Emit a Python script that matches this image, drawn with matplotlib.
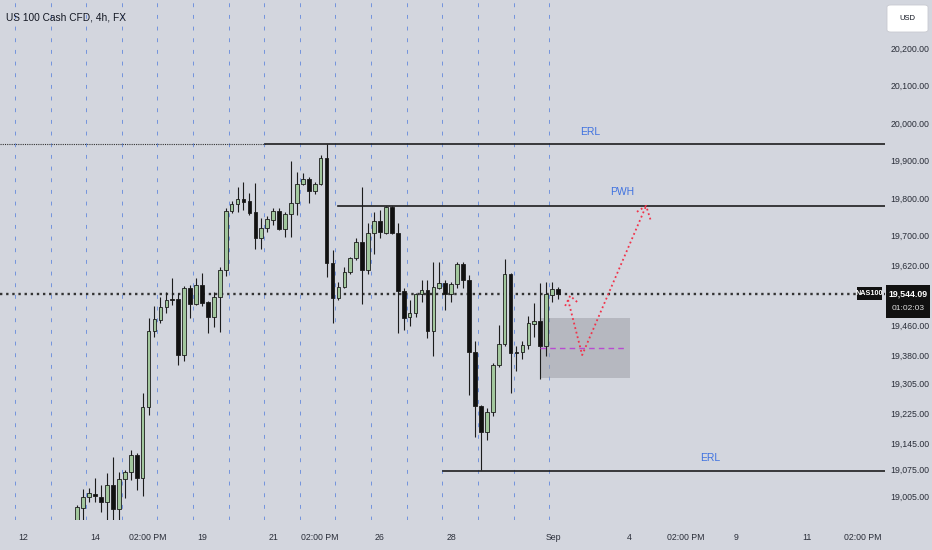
# US 100 Cash CFD 4h chart with ERL / PWH levels and a projected path

import matplotlib.pyplot as plt
from matplotlib.patches import Rectangle, FancyBboxPatch

plt.rcParams['font.family'] = ['Liberation Sans', 'DejaVu Sans']

# 4h candles, bar index 0 = first candle of Aug 12 (6 bars per day)
first_bar = 10
opens = [18835, 18973, 19003, 19011, 19003, 18989, 19035, 18971, 19051, 19069,
         19115, 19053, 19243, 19445, 19475, 19509, 19531, 19531, 19381, 19560,
         19517, 19568, 19523, 19483, 19536, 19608, 19765, 19784, 19797, 19792,
         19763, 19693, 19720, 19741, 19765, 19717, 19757, 19787, 19837, 19851,
         19819, 19837, 19907, 19627, 19533, 19563, 19603, 19640, 19683, 19608,
         19707, 19739, 19707, 19776, 19707, 19552, 19483, 19493, 19544, 19555,
         19445, 19560, 19573, 19544, 19571, 19624, 19581, 19389, 19245, 19176,
         19229, 19355, 19411, 19597, 19389, 19389, 19408, 19464, 19472, 19405,
         19541, 19557]
highs = [18981, 19024, 19027, 19053, 19035, 19067, 19109, 19069, 19075, 19128,
         19120, 19280, 19480, 19512, 19536, 19549, 19587, 19547, 19565, 19568,
         19587, 19600, 19525, 19549, 19616, 19773, 19792, 19829, 19843, 19813,
         19840, 19747, 19752, 19773, 19773, 19763, 19899, 19869, 19867, 19856,
         19843, 19915, 19944, 19661, 19576, 19616, 19642, 19693, 19829, 19733,
         19763, 19768, 19779, 19779, 19733, 19560, 19528, 19547, 19581, 19581,
         19629, 19629, 19581, 19576, 19629, 19629, 19595, 19419, 19247, 19240,
         19360, 19461, 19637, 19599, 19405, 19419, 19485, 19520, 19573, 19576,
         19576, 19563]
lows = [18795, 18936, 18989, 18989, 18963, 18936, 18936, 18941, 19000, 19048,
        19021, 19005, 19221, 19429, 19467, 19493, 19515, 19355, 19365, 19480,
        19515, 19512, 19440, 19456, 19443, 19592, 19760, 19763, 19768, 19755,
        19664, 19664, 19709, 19728, 19715, 19696, 19696, 19755, 19835, 19787,
        19811, 19835, 19589, 19467, 19528, 19560, 19597, 19635, 19517, 19597,
        19651, 19693, 19704, 19704, 19440, 19448, 19459, 19483, 19523, 19427,
        19379, 19557, 19501, 19523, 19560, 19560, 19275, 19163, 19075, 19155,
        19219, 19349, 19405, 19280, 19339, 19371, 19397, 19429, 19317, 19379,
        19523, 19531]
closes = [18976, 19003, 19013, 19005, 18989, 19035, 18971, 19051, 19069, 19115,
          19053, 19243, 19445, 19477, 19509, 19528, 19528, 19381, 19560, 19517,
          19568, 19520, 19483, 19536, 19608, 19765, 19784, 19797, 19789, 19760,
          19693, 19720, 19744, 19765, 19717, 19757, 19787, 19837, 19851, 19819,
          19837, 19907, 19627, 19533, 19563, 19603, 19640, 19683, 19608, 19707,
          19739, 19709, 19776, 19707, 19552, 19480, 19493, 19544, 19555, 19445,
          19563, 19573, 19544, 19571, 19624, 19581, 19389, 19245, 19176, 19229,
          19355, 19411, 19597, 19387, 19387, 19408, 19467, 19472, 19405, 19544,
          19557, 19544.09]

last_price = 19544.09

# levels drawn on the chart (price, first bar)
erl_high, erl_high_from = 19944, 41.6
pwh, pwh_from = 19779, 53.9
erl_low, erl_low_from = 19072, 71.6

# zone box and its midline
zone_x = [88.0, 103.2]
zone_y = [19320, 19480]
zone_mid = 19400
zone_mid_x = [88.0, 102.7]

# projected path (red dotted)
zig_x = [92.2, 93.05, 94.4]
zig_y = [19512, 19539, 19520]
path_x = [92.7, 95.07, 105.85]
path_y = [19528, 19381, 19779]
barb_x = [104.3, 105.85, 106.7]
barb_y = [19763, 19779, 19736]

# axes labels
tick_pos = [0.9, 13, 21.9, 31, 43, 50.9, 61, 73, 90.3, 103, 112.6, 121, 133, 142.4]
tick_lab = ['12', '14', '02:00 PM', '19', '21', '02:00 PM', '26', '28', 'Sep',
            '4', '02:00 PM', '9', '11', '02:00 PM']
price_ticks = [20200, 20100, 20000, 19900, 19800, 19700, 19620, 19460, 19380,
               19305, 19225, 19145, 19075, 19005]

BG = '#d3d6de'
W, H = 932, 550


def px(x, y):
    # pixel position -> figure fraction
    return x / W, 1 - y / H


fig = plt.figure(figsize=(W / 100, H / 100), dpi=100, facecolor=BG)
ax = fig.add_axes([0, 30 / H, 885 / W, 520 / H])
ax.set_facecolor(BG)
ax.set_xlim(-3.03, 146.1)
ax.set_ylim(18941, 20328)
for s in ax.spines.values():
    s.set_visible(False)

# session separators
for d in range(16):
    ax.axvline(6 * d - 0.5, color='#7393dc', lw=0.7, ls=(0, (4, 8)), zorder=1)

# zone
ax.add_patch(Rectangle((zone_x[0], zone_y[0]), zone_x[1] - zone_x[0],
                       zone_y[1] - zone_y[0], facecolor='#9a9ca4', alpha=0.5,
                       edgecolor='none', zorder=2))
ax.plot(zone_mid_x, [zone_mid, zone_mid], color='#b84bd0', lw=1.0,
        ls=(0, (4, 3)), zorder=5)

# candles
bars = list(range(first_bar, first_bar + len(opens)))
bottoms = [min(o, c) for o, c in zip(opens, closes)]
heights = [max(abs(c - o), 2.5) for o, c in zip(opens, closes)]
colors = ['#a2c79d' if c >= o else '#111111' for o, c in zip(opens, closes)]
ax.vlines(bars, lows, highs, color='#1c1c1c', lw=0.8, zorder=3)
ax.bar(bars, heights, bottom=bottoms, width=0.62, color=colors,
       edgecolor='#1c1c1c', linewidth=0.6, zorder=4)

# current price line
ax.axhline(last_price, color='#333333', lw=1.7, ls=(0, (1, 1.6)), zorder=2)

# levels
xr = ax.get_xlim()[1]
ax.plot([ax.get_xlim()[0], erl_high_from], [erl_high, erl_high],
        color='#333333', lw=0.8, ls=(0, (1, 1)), zorder=2)
ax.plot([erl_high_from, xr], [erl_high, erl_high], color='#1e1e1e', lw=1.2, zorder=5)
ax.plot([pwh_from, xr], [pwh, pwh], color='#1e1e1e', lw=1.2, zorder=5)
ax.plot([erl_low_from, xr], [erl_low, erl_low], color='#1e1e1e', lw=1.2, zorder=5)

lab = dict(color='#3f72e0', fontsize=7.5, ha='center', va='center')
ax.text(96.4, 19976, 'ERL', **lab)
ax.text(101.8, 19816, 'PWH', **lab)
ax.text(116.6, 19107, 'ERL', **lab)

# projected path
red = dict(color='#f0334a', lw=1.3, ls=(0, (1, 1.6)), zorder=6)
ax.plot(zig_x, zig_y, **red)
ax.plot(path_x, path_y, **red)
ax.plot(barb_x, barb_y, **red)

# axes ticks
ax.set_xticks(tick_pos, tick_lab)
ax.tick_params(axis='x', length=0, pad=9, labelsize=6.3, colors='#2a2e39')
ax.yaxis.tick_right()
ax.set_yticks(price_ticks, [f'{v:,.2f}' for v in price_ticks])
ax.tick_params(axis='y', length=0, pad=4, labelsize=6.3, colors='#2a2e39')

# title
fig.text(*px(6, 18), 'US 100 Cash CFD, 4h, FX', fontsize=7.3, color='#131722',
         ha='left', va='center')

# USD box
x0, y0 = px(887, 32)
fig.patches.append(FancyBboxPatch((x0, y0), 41 / W, 27 / H,
                                  boxstyle='round,pad=0,rounding_size=0.004',
                                  facecolor='white', edgecolor='#c8cad0', lw=0.6,
                                  transform=fig.transFigure, figure=fig))
fig.text(*px(907, 18.5), 'USD', fontsize=5.5, color='#131722', ha='center', va='center')

# symbol and price labels
x0, y0 = px(857, 300)
fig.patches.append(Rectangle((x0, y0), 25 / W, 13 / H, facecolor='#111111',
                             transform=fig.transFigure, figure=fig))
fig.text(*px(869.5, 293.5), 'NAS100', fontsize=5.2, color='white', weight='bold',
         ha='center', va='center')
x0, y0 = px(886, 318)
fig.patches.append(Rectangle((x0, y0), 44 / W, 33 / H, facecolor='#111111',
                             transform=fig.transFigure, figure=fig))
fig.text(*px(908, 294), f'{last_price:,.2f}', fontsize=6.3, color='white',
         weight='bold', ha='center', va='center')
fig.text(*px(908, 309), '01:02:03', fontsize=6.0, color='#dddddd',
         ha='center', va='center')

plt.savefig('out.png', dpi=100, facecolor=BG)
